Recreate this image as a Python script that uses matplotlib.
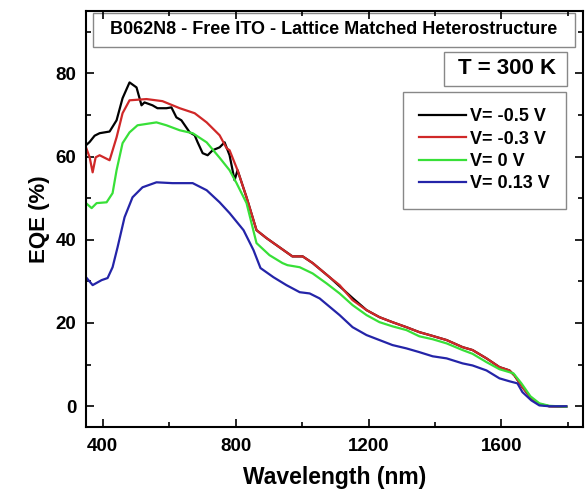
import matplotlib
matplotlib.use("Agg")
import matplotlib.pyplot as plt
from matplotlib.patches import Rectangle

plt.rcParams['font.family'] = ['Liberation Sans', 'DejaVu Sans']
plt.rcParams['font.weight'] = 'bold'

# V = -0.5 V
wl_m05 = [350, 361, 376, 391, 421, 442, 460, 481, 502, 517, 526, 550, 565, 592, 607, 622, 637,
          662, 677, 686, 701, 716, 731, 752, 767, 782, 797, 806, 833, 863, 893, 932, 971, 1002,
          1032, 1083, 1152, 1194, 1233, 1272, 1314, 1353, 1384, 1435, 1483, 1513, 1555, 1594,
          1624, 1639, 1663, 1690, 1714, 1744, 1795]
eqe_m05 = [62.7, 63.5, 65.0, 65.6, 66.0, 68.7, 74.0, 77.8, 76.6, 72.3, 73.0, 72.3, 71.6, 71.6,
           71.8, 69.4, 68.7, 65.8, 65.1, 63.4, 60.8, 60.3, 61.5, 62.2, 63.4, 60.3, 54.3, 56.7,
           50.2, 42.3, 40.4, 38.2, 36.0, 36.0, 34.4, 31.0, 26.0, 23.1, 21.4, 20.2, 19.0, 17.8,
           17.1, 15.9, 14.2, 13.5, 11.5, 9.4, 8.6, 7.4, 4.6, 1.9, 0.5, 0.0, -0.1]

# V = -0.3 V
wl_m03 = [350, 361, 370, 379, 391, 421, 442, 460, 481, 532, 580, 632, 677, 713, 752, 773, 782,
          806, 833, 863, 893, 932, 971, 1002, 1032, 1083, 1113, 1152, 1194, 1233, 1272, 1314,
          1353, 1384, 1435, 1483, 1513, 1555, 1594, 1624, 1639, 1663, 1690, 1714, 1744, 1795]
eqe_m03 = [62.2, 59.8, 56.2, 59.8, 60.3, 59.1, 64.6, 70.4, 73.5, 73.8, 73.3, 71.6, 70.4, 68.2,
           65.1, 62.0, 61.5, 56.7, 50.2, 42.3, 40.4, 38.2, 36.0, 36.0, 34.4, 31.0, 29.1, 25.5,
           23.1, 21.4, 20.2, 19.0, 17.8, 17.1, 15.9, 14.2, 13.5, 11.5, 9.4, 8.6, 7.4, 4.6, 1.9,
           0.5, 0.0, -0.1]

# V = 0 V
wl_0 = [350, 367, 382, 412, 430, 442, 460, 481, 505, 562, 592, 632, 671, 713, 752, 782, 803,
        833, 863, 902, 941, 956, 993, 1032, 1074, 1113, 1152, 1194, 1233, 1272, 1314, 1353,
        1393, 1435, 1483, 1513, 1555, 1594, 1636, 1660, 1687, 1714, 1744, 1795]
eqe_0 = [48.8, 47.6, 48.8, 49.0, 51.2, 56.7, 63.2, 65.8, 67.5, 68.2, 67.5, 66.3, 65.6, 63.4,
         59.7, 56.7, 53.6, 48.8, 39.2, 36.3, 34.4, 33.9, 33.4, 31.9, 29.5, 27.1, 24.3, 21.9,
         20.2, 19.2, 18.3, 16.8, 16.1, 15.1, 13.5, 12.6, 10.6, 8.9, 7.9, 5.5, 2.4, 0.7, 0.1,
         -0.1]

# V = 0.13 V
wl_013 = [350, 370, 397, 415, 430, 445, 466, 490, 520, 562, 610, 671, 713, 752, 782, 824, 854,
          875, 914, 953, 993, 1023, 1053, 1113, 1152, 1194, 1233, 1272, 1314, 1353, 1393, 1435,
          1483, 1513, 1555, 1594, 1624, 1648, 1663, 1690, 1714, 1744, 1795]
eqe_013 = [31.0, 29.1, 30.3, 30.8, 33.4, 38.2, 45.4, 50.2, 52.6, 53.8, 53.6, 53.6, 51.9, 49.0,
           46.4, 42.3, 37.5, 33.2, 31.0, 29.1, 27.4, 27.1, 25.9, 21.9, 19.0, 17.1, 15.9, 14.7,
           13.9, 13.0, 12.0, 11.5, 10.3, 9.8, 8.6, 6.7, 6.0, 5.5, 3.4, 1.4, 0.2, 0.0, 0.0]

labels = ["V= -0.5 V", "V= -0.3 V", "V= 0 V", "V= 0.13 V"]
colors = ["#000000", "#d02828", "#38e038", "#2424a8"]
xticks = [400, 800, 1200, 1600]
yticks = [0, 20, 40, 60, 80]

fig = plt.figure(figsize=(5.87, 4.92), dpi=100)
ax = fig.add_axes([0.1465, 0.132, 0.8465, 0.846])

series = [(wl_m05, eqe_m05), (wl_m03, eqe_m03), (wl_0, eqe_0), (wl_013, eqe_013)]
for (x, y), lab, c in zip(series, labels, colors):
    ax.plot(x, y, color=c, lw=1.6, label=lab)

ax.set_xlim(350, 1845)
ax.set_ylim(-5, 95)
ax.set_xticks(xticks)
ax.set_yticks(yticks)
ax.set_xticks([600, 1000, 1400, 1800], minor=True)
ax.set_yticks([10, 30, 50, 70, 90], minor=True)
ax.tick_params(which='both', direction='in', top=True, right=True, width=1.2)
ax.tick_params(which='major', length=6, labelsize=13.5)
ax.tick_params(axis='x', which='major', pad=8)
ax.tick_params(axis='y', which='major', pad=7)
ax.tick_params(which='minor', length=3.5)
for lbl in ax.get_xticklabels() + ax.get_yticklabels():
    lbl.set_fontweight('bold')
for s in ax.spines.values():
    s.set_linewidth(1.5)

ax.set_xlabel("Wavelength (nm)", fontsize=16.5, fontweight='bold', labelpad=8)
ax.set_ylabel("EQE (%)", fontsize=16, fontweight='bold', labelpad=4)

# Title box
ax.add_patch(Rectangle((0.014, 0.913), 0.970, 0.082, transform=ax.transAxes,
                       fill=False, edgecolor='#888888', lw=1.0))
ax.text(0.499, 0.954, "B062N8 - Free ITO - Lattice Matched Heterostructure",
        transform=ax.transAxes, ha='center', va='center', fontsize=13, fontweight='bold')

# Temperature box
ax.add_patch(Rectangle((0.720, 0.820), 0.248, 0.081, transform=ax.transAxes,
                       fill=False, edgecolor='#888888', lw=1.0))
ax.text(0.848, 0.861, "T = 300 K", transform=ax.transAxes, ha='center', va='center',
        fontsize=16, fontweight='bold')

leg = ax.legend(loc='upper right', bbox_to_anchor=(0.966, 0.805), fancybox=False,
                edgecolor='#888888', fontsize=13, handlelength=2.6, handletextpad=0.2,
                labelspacing=0.3, borderpad=0.9, borderaxespad=0, framealpha=1)
leg.get_frame().set_linewidth(1.0)
for t in leg.get_texts():
    t.set_fontweight('bold')

fig.savefig("out.png", dpi=100)
